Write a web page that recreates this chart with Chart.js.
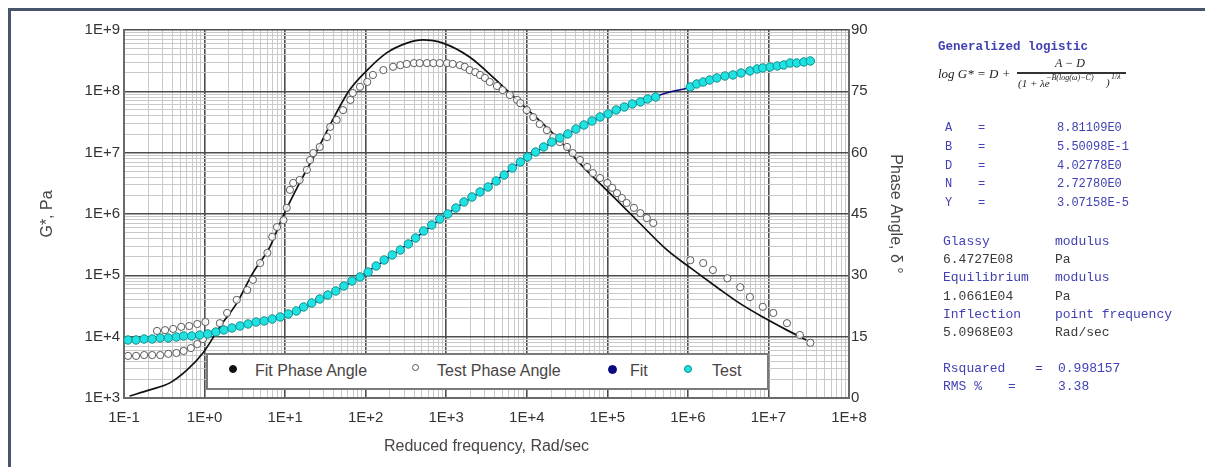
<!DOCTYPE html>
<html><head><meta charset="utf-8">
<script src="https://cdn.jsdelivr.net/npm/chart.js@4.4.1/dist/chart.umd.min.js"></script>
<style>
html,body{margin:0;padding:0;background:#fff;}
#wrap{position:relative;width:1205px;height:467px;overflow:hidden;background:#fff;}
#frame{position:absolute;left:8px;top:8px;width:1300px;height:500px;border-top:3px solid #46556b;border-left:3px solid #46556b;box-sizing:border-box;}
#cv{position:absolute;left:0;top:0;}
.t{position:absolute;white-space:pre;font-family:"Liberation Mono","DejaVu Sans Mono",monospace;line-height:1;}
.b{color:#4141b4;}
.k{color:#3a3a3a;}
.f{position:absolute;white-space:pre;font-family:"Liberation Serif","DejaVu Serif",serif;color:#222;line-height:1;}
#legend{position:absolute;left:206px;top:353px;width:563px;height:37px;border:2px solid #7a7a7a;background:#fff;box-sizing:border-box;}
.lt{position:absolute;font-family:"Liberation Sans",Arial,sans-serif;font-size:16px;color:#4a4444;line-height:1;white-space:pre;}
.m{position:absolute;border-radius:50%;box-sizing:border-box;}
</style></head>
<body>
<div id="wrap">
<canvas id="cv" width="940" height="467"></canvas>
<div id="frame"></div>
<div id="legend"></div>
<div id="panel"></div>
</div>
<script>
// ---- data (log10 of reduced frequency in rad/s, log10 of G* in Pa, phase angle in degrees) ----
const xTickExps = [-1, 0, 1, 2, 3, 4, 5, 6, 7, 8];
const yTickExps = [3, 4, 5, 6, 7, 8, 9];
const phaseTicks = [0, 15, 30, 45, 60, 75, 90];

const fitPhaseLogF = [-0.93,-0.68,-0.43,-0.22,-0.02,0.19,0.40,0.60,0.81,0.97,1.18,1.40,1.59,1.80,2.02,2.26,2.51,2.71,2.96,3.29,3.58,3.88,4.37,4.70,5.03,5.40,5.74,6.02,6.36,6.64,6.93,7.23,7.47];
const fitPhaseDeg  = [0.5,2.0,3.7,6.8,11.0,17.4,23.2,30.6,36.9,44.3,52.6,60.6,68.0,75.3,80.2,84.4,86.8,87.6,86.8,83.4,78.5,72.9,63.8,56.5,50.1,42.8,36.2,32.0,27.1,23.2,19.8,16.6,14.2];

const testPhaseLogF = [-0.95,-0.85,-0.75,-0.65,-0.55,-0.45,-0.35,-0.26,-0.17,-0.09,-0.02,
  -0.59,-0.49,-0.39,-0.29,-0.19,-0.09,0.01,
  0.19,0.28,0.40,0.53,0.60,0.69,0.78,0.84,0.90,0.98,1.02,1.06,1.10,1.18,1.27,1.31,1.35,1.43,1.52,1.56,1.64,1.72,1.81,1.84,1.93,2.02,2.09,2.22,2.34,2.43,2.51,2.60,2.67,2.76,2.84,2.92,3.01,3.08,3.17,3.23,3.29,3.36,3.42,3.48,3.54,3.63,3.70,3.79,3.88,3.92,4.00,4.08,4.16,4.25,4.33,4.41,4.50,4.57,4.66,4.75,4.82,4.91,5.00,5.06,5.12,5.18,5.24,5.33,5.41,5.49,5.57,
  6.03,6.19,6.31,6.49,6.65,6.77,6.93,7.06,7.23,7.39,7.52];
const testPhaseDeg = [10.3,10.3,10.5,10.5,10.5,10.8,11.0,11.5,12.2,13.2,14.4,
  16.4,16.6,16.9,17.4,17.6,18.1,18.6,
  18.3,20.8,24.0,26.4,28.9,33.0,35.5,39.4,41.8,43.5,46.5,50.9,52.6,53.3,55.8,58.2,59.9,61.4,63.8,66.3,68.0,70.4,72.9,74.6,76.1,77.3,79.0,80.2,81.0,81.4,81.7,81.9,81.9,81.9,81.9,81.9,81.9,81.7,81.4,81.0,80.2,79.7,79.0,78.3,77.3,76.3,75.3,74.1,72.9,72.1,70.4,68.7,67.0,65.5,63.8,62.6,61.4,59.9,58.2,56.5,55.0,53.8,52.6,51.4,50.1,48.9,47.7,46.5,45.2,44.0,42.8,
  33.7,33.0,31.3,29.3,27.1,24.7,22.3,20.8,18.3,15.4,13.5];

const testGLogF = [-0.95,-0.85,-0.75,-0.65,-0.55,-0.45,-0.35,-0.26,-0.16,-0.06,0.04,0.14,0.24,0.34,0.44,0.54,0.64,0.74,0.84,0.94,1.04,1.14,1.23,1.33,1.43,1.53,1.63,1.73,1.83,1.93,2.03,2.13,2.23,2.33,2.43,2.53,2.62,2.72,2.82,2.92,3.02,3.12,3.22,3.32,3.42,3.52,3.62,3.72,3.82,3.92,4.01,4.11,4.21,4.31,4.41,4.51,4.61,4.71,4.81,4.91,5.01,5.11,5.21,5.31,5.41,5.50,5.60,
  6.03,6.11,6.19,6.27,6.36,6.46,6.56,6.66,6.77,6.86,6.93,7.02,7.11,7.19,7.27,7.35,7.44,7.52];
const testGLog = [3.946,3.946,3.962,3.962,3.978,3.978,3.995,4.011,4.011,4.027,4.044,4.076,4.109,4.141,4.174,4.207,4.239,4.256,4.288,4.321,4.370,4.419,4.484,4.549,4.614,4.679,4.745,4.826,4.908,4.973,5.054,5.152,5.250,5.332,5.413,5.511,5.609,5.723,5.821,5.919,6.001,6.098,6.196,6.277,6.359,6.440,6.538,6.636,6.750,6.848,6.930,7.011,7.093,7.174,7.239,7.305,7.386,7.451,7.517,7.582,7.631,7.696,7.745,7.794,7.827,7.875,7.908,
  8.071,8.120,8.152,8.185,8.218,8.250,8.267,8.299,8.332,8.364,8.381,8.397,8.413,8.430,8.462,8.462,8.479,8.495];

const fitGLogF = [-1.0,-0.5,0.0,0.5,1.0,1.5,2.0,2.5,3.0,3.5,4.0,4.5,5.0,5.5,5.78,6.0,6.5,7.0,7.5];
const fitGLog  = [3.946,3.978,4.035,4.19,4.345,4.647,5.04,5.49,5.99,6.43,6.92,7.30,7.63,7.875,7.99,8.055,8.26,8.39,8.49];

const legendLabels = ["Fit Phase Angle", "Test Phase Angle", "Fit", "Test"];
const paramNames = ["A", "B", "D", "N", "Y"];
const paramValues = ["8.81109E0", "5.50098E-1", "4.02778E0", "2.72780E0", "3.07158E-5"];

// ---- helpers ----
const pts = (xs, ys) => xs.map((x, i) => ({x: x, y: ys[i]}));
const isInt = v => Math.abs(v - Math.round(v)) < 1e-7;
const fmtExp = v => { const n = Math.round(v); return "1E" + (n < 0 ? "-" : "+") + Math.abs(n); };
function logTicks(exps) {
  const out = [];
  exps.forEach((n, i) => {
    out.push({value: n});
    if (i < exps.length - 1) for (let k = 2; k <= 9; k++) out.push({value: n + Math.log10(k)});
  });
  return out;
}
const gridColor = c => (c.tick && isInt(c.tick.value)) ? '#4d4d4d' : '#c9c9c9';
const gridWidth = c => (c.tick && isInt(c.tick.value)) ? 1.6 : 1;
const tickFont = {family: 'Liberation Sans', size: 15};
const titleFont = {family: 'Liberation Sans', size: 16};

new Chart(document.getElementById('cv'), {
  type: 'scatter',
  data: {
    datasets: [
      {label: legendLabels[3], data: pts(testGLogF, testGLog), yAxisID: 'yG', showLine: false,
       pointRadius: 4.2, pointHoverRadius: 4.2, backgroundColor: '#1fe3e3', borderColor: '#138c8c', borderWidth: 1},
      {label: legendLabels[1], data: pts(testPhaseLogF, testPhaseDeg), yAxisID: 'yP', showLine: false,
       pointRadius: 3.6, pointHoverRadius: 3.6, backgroundColor: 'rgba(255,255,255,0.85)', borderColor: '#5a5a5a', borderWidth: 1},
      {label: legendLabels[2], data: pts(fitGLogF, fitGLog), yAxisID: 'yG', showLine: true,
       borderColor: '#0a0a80', borderWidth: 1.6, pointRadius: 0, cubicInterpolationMode: 'monotone'},
      {label: legendLabels[0], data: pts(fitPhaseLogF, fitPhaseDeg), yAxisID: 'yP', showLine: true,
       borderColor: '#111', borderWidth: 1.7, pointRadius: 0, cubicInterpolationMode: 'monotone'}
    ]
  },
  options: {
    responsive: false, animation: false, devicePixelRatio: 1,
    layout: {padding: {top: 30, left: 0, right: 0, bottom: 0}},
    plugins: {legend: {display: false}, tooltip: {enabled: false}},
    scales: {
      x: {
        type: 'linear', min: xTickExps[0], max: xTickExps[xTickExps.length - 1],
        afterBuildTicks: s => { s.ticks = logTicks(xTickExps); },
        afterFit: s => { s.height = 69; },
        ticks: {autoSkip: false, maxRotation: 0, padding: 11, font: tickFont, color: '#333',
                callback: v => isInt(v) ? fmtExp(v) : ''},
        grid: {color: gridColor, lineWidth: gridWidth, drawTicks: false},
        border: {display: true, color: '#6a6a6a', width: 2},
        title: {display: true, text: 'Reduced frequency, Rad/sec', font: titleFont, color: '#4a4444', padding: {top: 0, bottom: 10.4}}
      },
      yG: {
        type: 'linear', position: 'left', min: yTickExps[0], max: yTickExps[yTickExps.length - 1],
        afterBuildTicks: s => { s.ticks = logTicks(yTickExps); },
        afterFit: s => { s.width = 124; },
        ticks: {autoSkip: false, padding: 4, font: tickFont, color: '#333',
                callback: v => isInt(v) ? fmtExp(v) : ''},
        grid: {color: gridColor, lineWidth: gridWidth, drawTicks: false},
        border: {display: true, color: '#6a6a6a', width: 2},
        title: {display: true, text: 'G*, Pa', font: titleFont, color: '#4a4444', padding: {top: 38.4, bottom: 0}}
      },
      yP: {
        type: 'linear', position: 'right', min: phaseTicks[0], max: phaseTicks[phaseTicks.length - 1],
        afterBuildTicks: s => { s.ticks = phaseTicks.map(v => ({value: v})); },
        afterFit: s => { s.width = 91; },
        ticks: {autoSkip: false, padding: 2, font: tickFont, color: '#333'},
        grid: {display: false, drawTicks: false},
        border: {display: true, color: '#6a6a6a', width: 2},
        title: {display: true, text: 'Phase Angle, \u03b4 \u00b0', font: titleFont, color: '#4a4444', padding: {top: 35.4, bottom: 0}}
      }
    }
  }
});

// ---- legend (HTML, real text) ----
const lg = document.getElementById('legend');
function marker(cx, cy, r, bg, bd) {
  const d = document.createElement('div'); d.className = 'm';
  d.style.left = (cx - 206 - 2 - r) + 'px'; d.style.top = (cy - 353 - 2 - r) + 'px';
  d.style.width = (2 * r) + 'px'; d.style.height = (2 * r) + 'px';
  d.style.background = bg; d.style.border = '1px solid ' + bd; lg.appendChild(d);
}
function ltext(x, cy, s) {
  const d = document.createElement('div'); d.className = 'lt'; d.textContent = s;
  d.style.left = (x - 206 - 2) + 'px'; d.style.top = (cy - 353 - 2 - 8) + 'px'; lg.appendChild(d);
}
marker(233, 369, 4, '#111', '#111');    ltext(255, 371, legendLabels[0]);
marker(415, 367, 3.5, '#fff', '#555');  ltext(437, 371, legendLabels[1]);
marker(612, 369, 4.5, '#0a0a80', '#0a0a80'); ltext(630, 371, legendLabels[2]);
marker(688, 369, 4, '#1fe3e3', '#138c8c'); ltext(712, 371, legendLabels[3]);

// ---- right-hand text panel ----
const pn = document.getElementById('panel');
function txt(x, cy, s, cls, size, extra) {
  const d = document.createElement('div'); d.className = 't ' + cls; d.textContent = s;
  d.style.left = x + 'px'; d.style.top = (cy - size / 2) + 'px'; d.style.fontSize = size + 'px';
  if (extra) Object.assign(d.style, extra);
  pn.appendChild(d); return d;
}
function ftxt(x, cy, s, size, extra) {
  const d = document.createElement('div'); d.className = 'f'; d.textContent = s;
  d.style.left = x + 'px'; d.style.top = (cy - size / 2) + 'px'; d.style.fontSize = size + 'px';
  if (extra) Object.assign(d.style, extra);
  pn.appendChild(d); return d;
}
txt(938, 47, 'Generalized logistic', 'b', 12.5, {fontWeight: 'bold'});
ftxt(938, 73, 'log G* = D +', 13, {fontStyle: 'italic'});
ftxt(1055, 63, 'A \u2212 D', 12, {fontStyle: 'italic'});
const bar = document.createElement('div');
Object.assign(bar.style, {position: 'absolute', left: '1017px', top: '72px', width: '109px', height: '1.5px', background: '#333'});
pn.appendChild(bar);
ftxt(1018, 83, '(1 + \u03bbe', 11, {fontStyle: 'italic'});
ftxt(1046, 78, '\u2212B(log(\u03c9)\u2212C)', 8, {fontStyle: 'italic'});
ftxt(1106, 82, ')', 11, {fontStyle: 'italic'});
ftxt(1111, 77, '1/\u03bb', 8, {fontStyle: 'italic'});

const rowY = [128, 147, 166, 184, 203];
paramNames.forEach((n, i) => {
  txt(945, rowY[i], n, 'b', 12);
  txt(978, rowY[i], '=', 'b', 12);
  txt(1057, rowY[i], paramValues[i], 'b', 12);
});
txt(943, 241, 'Glassy', 'b', 13);          txt(1055, 241, 'modulus', 'b', 13);
txt(943, 259, '6.4727E08', 'k', 13);       txt(1055, 259, 'Pa', 'k', 13);
txt(943, 277, 'Equilibrium', 'b', 13);     txt(1055, 277, 'modulus', 'b', 13);
txt(943, 296, '1.0661E04', 'k', 13);       txt(1055, 296, 'Pa', 'k', 13);
txt(943, 314, 'Inflection', 'b', 13);      txt(1055, 314, 'point frequency', 'b', 13);
txt(943, 332, '5.0968E03', 'k', 13);       txt(1055, 332, 'Rad/sec', 'k', 13);
txt(943, 368, 'Rsquared', 'b', 13);  txt(1035, 368, '=', 'b', 13);  txt(1058, 368, '0.998157', 'b', 13);
txt(943, 386, 'RMS %', 'b', 13);     txt(1008, 386, '=', 'b', 13);  txt(1058, 386, '3.38', 'b', 13);
</script>
</body></html>
